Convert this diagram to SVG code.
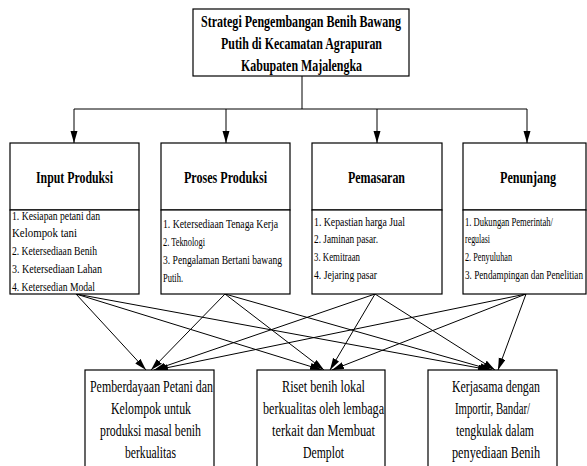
<svg xmlns="http://www.w3.org/2000/svg" width="587" height="466" viewBox="0 0 587 466">
<style>
.box{fill:#fff;stroke:#000;stroke-width:1.2}
.ln{fill:none;stroke:#000;stroke-width:1}
.tt{font-family:"Liberation Serif","Times New Roman",serif;font-weight:bold;font-size:17px;fill:#000}
.hd{font-family:"Liberation Serif","Times New Roman",serif;font-weight:bold;font-size:16px;fill:#000}
.bd{font-family:"Liberation Serif","Times New Roman",serif;font-size:12px;fill:#000}
.bt{font-family:"Liberation Serif","Times New Roman",serif;font-size:16px;fill:#000}
</style>
<defs>
<marker id="ah" markerUnits="userSpaceOnUse" markerWidth="13" markerHeight="8" refX="12" refY="3.5" orient="auto">
<path d="M0,0 L12,3.5 L0,7 z" fill="#000"/>
</marker>
</defs>
<rect width="587" height="466" fill="#fff"/>

<g id="connectors">
<polyline class="ln" points="302,76 302,109"/>
<polyline class="ln" points="74,109 527,109"/>
<line class="ln" x1="74" y1="109" x2="74" y2="143" marker-end="url(#ah)"/>
<line class="ln" x1="226" y1="109" x2="226" y2="143" marker-end="url(#ah)"/>
<line class="ln" x1="377" y1="109" x2="377" y2="143" marker-end="url(#ah)"/>
<line class="ln" x1="527" y1="109" x2="527" y2="143" marker-end="url(#ah)"/>

<line class="ln" x1="76" y1="294" x2="146" y2="370" marker-end="url(#ah)"/>
<line class="ln" x1="76" y1="294" x2="322" y2="370" marker-end="url(#ah)"/>
<line class="ln" x1="76" y1="294" x2="490" y2="370" marker-end="url(#ah)"/>
<line class="ln" x1="225" y1="294" x2="151" y2="370" marker-end="url(#ah)"/>
<line class="ln" x1="225" y1="294" x2="324" y2="370" marker-end="url(#ah)"/>
<line class="ln" x1="225" y1="294" x2="492" y2="370" marker-end="url(#ah)"/>
<line class="ln" x1="375" y1="294" x2="154" y2="370" marker-end="url(#ah)"/>
<line class="ln" x1="375" y1="294" x2="330" y2="370" marker-end="url(#ah)"/>
<line class="ln" x1="375" y1="294" x2="495" y2="370" marker-end="url(#ah)"/>
<line class="ln" x1="526" y1="294" x2="156" y2="370" marker-end="url(#ah)"/>
<line class="ln" x1="526" y1="294" x2="332" y2="370" marker-end="url(#ah)"/>
<line class="ln" x1="526" y1="294" x2="498" y2="370" marker-end="url(#ah)"/>
</g>

<g id="strategi">
<rect class="box" x="193" y="9" width="216" height="67"/>
<text class="tt" x="201" y="27" textLength="200" lengthAdjust="spacingAndGlyphs">Strategi Pengembangan Benih Bawang</text>
<text class="tt" x="221" y="49" textLength="161" lengthAdjust="spacingAndGlyphs">Putih di Kecamatan Agrapuran</text>
<text class="tt" x="241" y="71" textLength="121" lengthAdjust="spacingAndGlyphs">Kabupaten Majalengka</text>
</g>

<g id="input-produksi">
<rect class="box" x="10" y="143" width="129" height="67"/>
<rect class="box" x="10" y="210" width="129" height="84"/>
<text class="hd" x="36" y="183" textLength="77" lengthAdjust="spacingAndGlyphs">Input Produksi</text>
<text class="bd" x="12" y="220" textLength="88" lengthAdjust="spacingAndGlyphs">1. Kesiapan petani dan</text>
<text class="bd" x="12" y="237" textLength="65" lengthAdjust="spacingAndGlyphs">Kelompok tani</text>
<text class="bd" x="12" y="255" textLength="85" lengthAdjust="spacingAndGlyphs">2. Ketersediaan Benih</text>
<text class="bd" x="12" y="273" textLength="90" lengthAdjust="spacingAndGlyphs">3. Ketersediaan Lahan</text>
<text class="bd" x="12" y="291" textLength="83" lengthAdjust="spacingAndGlyphs">4. Ketersedian Modal</text>
</g>

<g id="proses-produksi">
<rect class="box" x="161" y="143" width="129" height="67"/>
<rect class="box" x="161" y="210" width="129" height="84"/>
<text class="hd" x="184" y="183" textLength="83" lengthAdjust="spacingAndGlyphs">Proses Produksi</text>
<text class="bd" x="163" y="228" textLength="115" lengthAdjust="spacingAndGlyphs">1. Ketersediaan Tenaga Kerja</text>
<text class="bd" x="163" y="246" textLength="42" lengthAdjust="spacingAndGlyphs">2. Teknologi</text>
<text class="bd" x="163" y="264" textLength="119" lengthAdjust="spacingAndGlyphs">3. Pengalaman Bertani bawang</text>
<text class="bd" x="163" y="282" textLength="20" lengthAdjust="spacingAndGlyphs">Putih.</text>
</g>

<g id="pemasaran">
<rect class="box" x="312" y="143" width="130" height="67"/>
<rect class="box" x="312" y="210" width="130" height="84"/>
<text class="hd" x="348" y="183" textLength="57" lengthAdjust="spacingAndGlyphs">Pemasaran</text>
<text class="bd" x="314" y="226" textLength="91" lengthAdjust="spacingAndGlyphs">1. Kepastian harga Jual</text>
<text class="bd" x="314" y="243" textLength="64" lengthAdjust="spacingAndGlyphs">2. Jaminan pasar.</text>
<text class="bd" x="314" y="261" textLength="46" lengthAdjust="spacingAndGlyphs">3. Kemitraan</text>
<text class="bd" x="314" y="279" textLength="63" lengthAdjust="spacingAndGlyphs">4. Jejaring pasar</text>
</g>

<g id="penunjang">
<rect class="box" x="463" y="143" width="123" height="67"/>
<rect class="box" x="463" y="210" width="123" height="84"/>
<text class="hd" x="500" y="183" textLength="56" lengthAdjust="spacingAndGlyphs">Penunjang</text>
<text class="bd" x="465" y="226" textLength="88" lengthAdjust="spacingAndGlyphs">1. Dukungan Pemerintah/</text>
<text class="bd" x="465" y="243" textLength="25" lengthAdjust="spacingAndGlyphs">regulasi</text>
<text class="bd" x="465" y="261" textLength="47" lengthAdjust="spacingAndGlyphs">2. Penyuluhan</text>
<text class="bd" transform="translate(465 279) scale(0.766 1)" x="0" y="0" textLength="154" lengthAdjust="spacingAndGlyphs">3. Pendampingan dan Penelitian</text>
</g>

<g id="pemberdayaan">
<rect class="box" x="85" y="370" width="129" height="100"/>
<text class="bt" x="90" y="392" textLength="123" lengthAdjust="spacingAndGlyphs">Pemberdayaan Petani dan</text>
<text class="bt" x="111" y="414" textLength="80" lengthAdjust="spacingAndGlyphs">Kelompok untuk</text>
<text class="bt" x="100" y="436" textLength="101" lengthAdjust="spacingAndGlyphs">produksi masal benih</text>
<text class="bt" x="125" y="458" textLength="51" lengthAdjust="spacingAndGlyphs">berkualitas</text>
</g>

<g id="riset">
<rect class="box" x="257" y="370" width="128" height="100"/>
<text class="bt" x="282" y="392" textLength="83" lengthAdjust="spacingAndGlyphs">Riset benih lokal</text>
<text class="bt" x="263" y="414" textLength="121" lengthAdjust="spacingAndGlyphs">berkualitas oleh lembaga</text>
<text class="bt" x="272" y="436" textLength="103" lengthAdjust="spacingAndGlyphs">terkait dan  Membuat</text>
<text class="bt" x="303" y="458" textLength="41" lengthAdjust="spacingAndGlyphs">Demplot</text>
</g>

<g id="kerjasama">
<rect class="box" x="428" y="370" width="129" height="100"/>
<text class="bt" x="452" y="392" textLength="88" lengthAdjust="spacingAndGlyphs">Kerjasama dengan</text>
<text class="bt" x="455" y="414" textLength="75" lengthAdjust="spacingAndGlyphs">Importir, Bandar/</text>
<text class="bt" x="456" y="436" textLength="78" lengthAdjust="spacingAndGlyphs">tengkulak dalam</text>
<text class="bt" x="452" y="458" textLength="88" lengthAdjust="spacingAndGlyphs">penyediaan Benih</text>
</g>
</svg>
